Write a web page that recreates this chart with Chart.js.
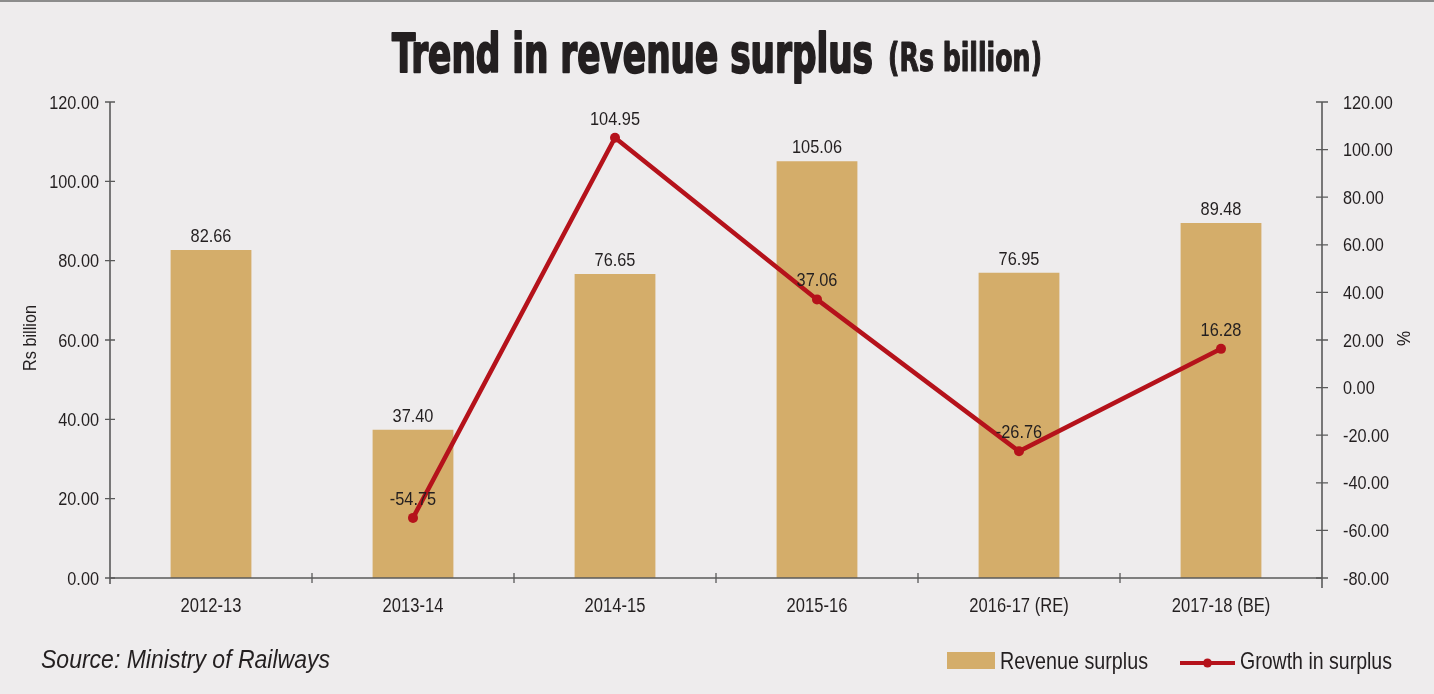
<!DOCTYPE html>
<html>
<head>
<meta charset="utf-8">
<script src="https://cdn.jsdelivr.net/npm/chart.js@4.4.1/dist/chart.umd.min.js"></script>
<style>
  html, body { margin: 0; padding: 0; background: #eeeced; }
  #wrap { width: 1434px; height: 694px; position: relative; }
</style>
</head>
<body>
<div id="wrap"><canvas id="c" width="1434" height="694"></canvas></div>
<script>
const categories = ['2012-13', '2013-14', '2014-15', '2015-16', '2016-17 (RE)', '2017-18 (BE)'];
const revenueSurplus = [82.66, 37.40, 76.65, 105.06, 76.95, 89.48];
const growthInSurplus = [null, -54.75, 104.95, 37.06, -26.76, 16.28];
const leftTicks = [0, 20, 40, 60, 80, 100, 120];
const rightTicks = [-80, -60, -40, -20, 0, 20, 40, 60, 80, 100, 120];

const FONT = '"Liberation Sans", Arial, sans-serif';
const TFONT = '"DejaVu Sans Condensed", "Liberation Sans", sans-serif';
const TXT = '#231f20';
const AXIS = '#5a5a5a';
const BAR = '#d4ad6a';
const LINE = '#b5121b';
const SX = 0.86;

// draw text horizontally compressed; sx = scale, or width target if fit given
function txt(ctx, s, x, y, font, align, sx, fitW) {
  ctx.font = font;
  const m = ctx.measureText(s).width;
  const k = fitW ? fitW / m : sx;
  const w = m * k;
  let x0 = x;
  if (align === 'center') x0 = x - w / 2;
  else if (align === 'right') x0 = x - w;
  ctx.save();
  ctx.textAlign = 'left';
  ctx.textBaseline = 'alphabetic';
  ctx.translate(x0, y);
  ctx.scale(k, 1);
  ctx.fillText(s, 0, 0);
  ctx.restore();
}

const decorPlugin = {
  id: 'decor',
  beforeDraw(chart) {
    const ctx = chart.ctx;
    ctx.save();
    ctx.fillStyle = '#eeeced';
    ctx.fillRect(0, 0, chart.width, chart.height);
    ctx.fillStyle = '#8c8c8c';
    ctx.fillRect(0, 0, chart.width, 2);
    ctx.restore();
  },
  afterDatasetsDraw(chart) {
    const ctx = chart.ctx;
    const x = chart.scales.x, y = chart.scales.y, y1 = chart.scales.y1;
    const ca = chart.chartArea;
    ctx.save();
    // axes
    ctx.strokeStyle = AXIS;
    ctx.lineWidth = 1.6;
    ctx.beginPath();
    ctx.moveTo(ca.left, ca.top); ctx.lineTo(ca.left, ca.bottom + 6);
    ctx.moveTo(ca.right, ca.top); ctx.lineTo(ca.right, ca.bottom + 10);
    ctx.moveTo(ca.left, ca.bottom); ctx.lineTo(ca.right, ca.bottom);
    ctx.stroke();
    ctx.lineWidth = 1.3;
    ctx.beginPath();
    y.ticks.forEach((t, i) => { const p = y.getPixelForTick(i); ctx.moveTo(ca.left - 5, p); ctx.lineTo(ca.left + 5, p); });
    y1.ticks.forEach((t, i) => { const p = y1.getPixelForTick(i); ctx.moveTo(ca.right - 6, p); ctx.lineTo(ca.right + 6, p); });
    for (let i = 1; i < categories.length; i++) {
      const p = (x.getPixelForValue(i - 1) + x.getPixelForValue(i)) / 2;
      ctx.moveTo(p, ca.bottom - 5); ctx.lineTo(p, ca.bottom + 5);
    }
    ctx.stroke();

    // tick labels
    ctx.fillStyle = TXT;
    y.ticks.forEach((t, i) => {
      txt(ctx, Number(t.value).toFixed(2), ca.left - 11, y.getPixelForTick(i) + 6.5, '18.5px ' + FONT, 'right', 0.88);
    });
    y1.ticks.forEach((t, i) => {
      txt(ctx, Number(t.value).toFixed(2), ca.right + 21, y1.getPixelForTick(i) + 6.5, '18.5px ' + FONT, 'left', 0.88);
    });
    x.ticks.forEach((t, i) => {
      txt(ctx, categories[t.value], x.getPixelForTick(i), 612, '19.5px ' + FONT, 'center', 0.85);
    });

    // data labels
    const barMeta = chart.getDatasetMeta(0);
    barMeta.data.forEach((el, i) => {
      txt(ctx, revenueSurplus[i].toFixed(2), el.x, el.y - 8, '19px ' + FONT, 'center', SX);
    });
    const lineMeta = chart.getDatasetMeta(1);
    lineMeta.data.forEach((el, i) => {
      if (growthInSurplus[i] === null) return;
      txt(ctx, growthInSurplus[i].toFixed(2), el.x, el.y - 13, '19px ' + FONT, 'center', SX);
    });
    ctx.restore();
  },
  afterDraw(chart) {
    const ctx = chart.ctx;
    ctx.save();
    ctx.fillStyle = TXT;
    ctx.strokeStyle = TXT;
    // title (emboldened)
    const drawFit = (text, font, x, yb, w, lw) => {
      ctx.font = font;
      const m = ctx.measureText(text).width;
      ctx.save();
      ctx.translate(x, yb);
      ctx.scale(w / m, 1);
      ctx.textAlign = 'left';
      ctx.textBaseline = 'alphabetic';
      ctx.lineWidth = lw;
      ctx.lineJoin = 'round';
      ctx.strokeText(text, 0, 0);
      ctx.fillText(text, 0, 0);
      ctx.restore();
    };
    drawFit('Trend in revenue surplus', 'bold 54px ' + TFONT, 392, 72, 481, 2);
    drawFit('(Rs billion)', 'bold 39px ' + TFONT, 888, 71, 154, 1.2);

    // axis titles
    ctx.save();
    ctx.translate(36, 371);
    ctx.rotate(-Math.PI / 2);
    txt(ctx, 'Rs billion', 0, 0, '19px ' + FONT, 'left', 0, 66);
    ctx.restore();
    ctx.save();
    ctx.translate(1410, 346);
    ctx.rotate(-Math.PI / 2);
    txt(ctx, '%', 0, 0, '19px ' + FONT, 'left', 0.9);
    ctx.restore();

    // source
    txt(ctx, 'Source: Ministry of Railways', 41, 668, 'italic 26px ' + FONT, 'left', 0, 289);

    // legend
    ctx.fillStyle = BAR;
    ctx.fillRect(947, 652, 48, 17);
    ctx.fillStyle = TXT;
    txt(ctx, 'Revenue surplus', 1000, 669, '24px ' + FONT, 'left', 0, 148);
    ctx.strokeStyle = LINE;
    ctx.lineWidth = 4;
    ctx.beginPath(); ctx.moveTo(1180, 663); ctx.lineTo(1235, 663); ctx.stroke();
    ctx.fillStyle = LINE;
    ctx.beginPath(); ctx.arc(1207.5, 663, 4.5, 0, Math.PI * 2); ctx.fill();
    ctx.fillStyle = TXT;
    txt(ctx, 'Growth in surplus', 1240, 669, '24px ' + FONT, 'left', 0, 152);
    ctx.restore();
  }
};

new Chart(document.getElementById('c'), {
  data: {
    labels: categories,
    datasets: [
      {
        type: 'bar',
        label: 'Revenue surplus',
        data: revenueSurplus,
        backgroundColor: BAR,
        yAxisID: 'y',
        categoryPercentage: 1,
        barPercentage: 0.4,
        order: 2
      },
      {
        type: 'line',
        label: 'Growth in surplus',
        data: growthInSurplus,
        borderColor: LINE,
        backgroundColor: LINE,
        borderWidth: 4.5,
        pointRadius: 5,
        pointBackgroundColor: LINE,
        pointBorderWidth: 0,
        yAxisID: 'y1',
        tension: 0,
        spanGaps: false,
        order: 1
      }
    ]
  },
  options: {
    responsive: false,
    animation: false,
    events: [],
    layout: { padding: { top: 102, left: 0, right: 0, bottom: 0 } },
    plugins: { legend: { display: false }, title: { display: false }, tooltip: { enabled: false } },
    scales: {
      x: {
        offset: true,
        grid: { display: false },
        border: { display: false },
        ticks: { display: false },
        afterFit(s) { s.height = 116; }
      },
      y: {
        position: 'left',
        min: 0, max: 120,
        grid: { display: false },
        border: { display: false },
        ticks: { display: false, stepSize: 20 },
        afterFit(s) { s.width = 110; }
      },
      y1: {
        position: 'right',
        min: -80, max: 120,
        grid: { display: false },
        border: { display: false },
        ticks: { display: false, stepSize: 20 },
        afterFit(s) { s.width = 112; }
      }
    }
  },
  plugins: [decorPlugin]
});
</script>
</body>
</html>
